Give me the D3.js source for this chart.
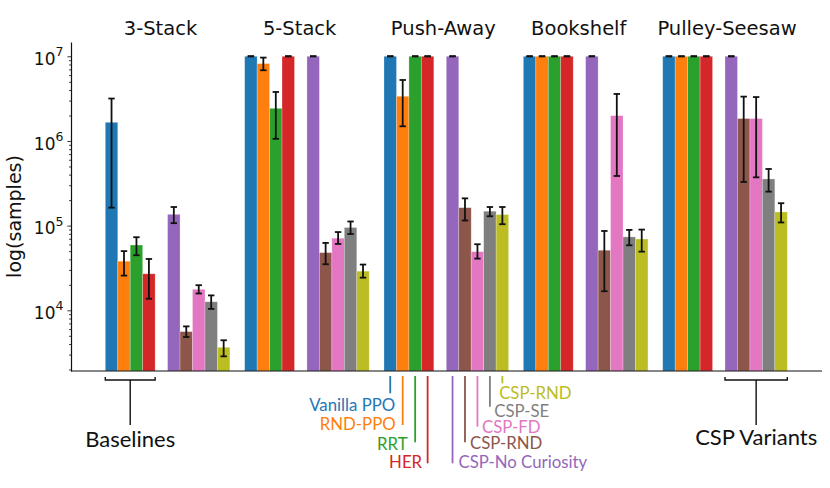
<!DOCTYPE html>
<meta charset="utf-8">
<html lang="en">
<head>
<script src="https://cdn.jsdelivr.net/npm/d3@7"></script>
<style>
  body { margin: 0; background: #fff; }
  svg { display: block; }
  .tick text { font-family: "DejaVu Sans", sans-serif; }
</style>
</head>
<body>
<svg id="chart" width="830" height="488"></svg>
<script>
// tasks and methods
const groups = ['3-Stack', '5-Stack', 'Push-Away', 'Bookshelf', 'Pulley-Seesaw'];
const methods = ['Vanilla PPO', 'RND-PPO', 'RRT', 'HER',
                 'CSP-No Curiosity', 'CSP-RND', 'CSP-FD', 'CSP-SE', 'CSP-RND'];
const colors = ['#1f77b4', '#ff7f0e', '#2ca02c', '#d62728',
                '#9467bd', '#8c564b', '#e377c2', '#7f7f7f', '#bcbd22'];

// samples needed (mean, lower and upper error), one value per method
const stack3Mean = [1.66e6, 3.8e4, 5.9e4, 2.7e4, 1.36e5, 5.6e3, 1.77e4, 1.26e4, 3.66e3];
const stack3Lo   = [1.63e5, 2.57e4, 4.47e4, 1.37e4, 1.07e5, 4.84e3, 1.58e4, 1.04e4, 2.86e3];
const stack3Hi   = [3.17e6, 5.0e4, 7.3e4, 4.04e4, 1.66e5, 6.46e3, 1.98e4, 1.5e4, 4.43e3];

const stack5Mean = [1e7, 8.2e6, 2.43e6, 1e7, 1e7, 4.8e4, 7.1e4, 9.5e4, 2.9e4];
const stack5Lo   = [1e7, 6.84e6, 1.06e6, 1e7, 1e7, 3.5e4, 6.08e4, 7.96e4, 2.43e4];
const stack5Hi   = [1e7, 9.65e6, 3.79e6, 1e7, 1e7, 6.25e4, 8.4e4, 1.12e5, 3.47e4];

const pushMean = [1e7, 3.37e6, 1e7, 1e7, 1e7, 1.63e5, 4.93e4, 1.48e5, 1.35e5];
const pushLo   = [1e7, 1.49e6, 1e7, 1e7, 1e7, 1.15e5, 4.08e4, 1.29e5, 1.04e5];
const pushHi   = [1e7, 5.25e6, 1e7, 1e7, 1e7, 2.1e5, 6.03e4, 1.66e5, 1.66e5];

const shelfMean = [1e7, 1e7, 1e7, 1e7, 1e7, 5.12e4, 1.99e6, 7.36e4, 6.95e4];
const shelfLo   = [1e7, 1e7, 1e7, 1e7, 1e7, 1.68e4, 3.86e5, 5.86e4, 4.93e4];
const shelfHi   = [1e7, 1e7, 1e7, 1e7, 1e7, 8.65e4, 3.59e6, 8.9e4, 8.98e4];

const pulleyMean = [1e7, 1e7, 1e7, 1e7, 1e7, 1.84e6, 1.84e6, 3.56e5, 1.45e5];
const pulleyLo   = [1e7, 1e7, 1e7, 1e7, 1e7, 3.28e5, 3.72e5, 2.52e5, 1.09e5];
const pulleyHi   = [1e7, 1e7, 1e7, 1e7, 1e7, 3.34e6, 3.3e6, 4.67e5, 1.84e5];

const yTicks = [1e4, 1e5, 1e6, 1e7];

const means = [stack3Mean, stack5Mean, pushMean, shelfMean, pulleyMean];
const los = [stack3Lo, stack5Lo, pushLo, shelfLo, pulleyLo];
const his = [stack3Hi, stack5Hi, pushHi, shelfHi, pulleyHi];

const rows = [];
groups.forEach((g, gi) => methods.forEach((m, mi) => rows.push({
  g: g, mi: mi, v: means[gi][mi], lo: los[gi][mi], hi: his[gi][mi]
})));

const svg = d3.select('#chart');
const plotL = 71, plotR = 822, plotT = 42, plotB = 371;

const x = d3.scaleBand().domain(groups).range([105.3, 787.3])
  .paddingInner(0.106).paddingOuter(0);
// 4 baselines, one empty slot, 5 CSP variants
const slot = i => i < 4 ? i : i + 1;
const xi = d3.scaleBand().domain(d3.range(10)).range([0, x.bandwidth()]);
const bw = xi.bandwidth();
const y = d3.scaleLog().domain([1920, 1.475e7]).range([plotB, plotT]);

// bars
svg.append('g').selectAll('rect').data(rows).enter()
  .append('rect')
    .attr('x', d => x(d.g) + xi(slot(d.mi)))
    .attr('width', bw)
    .attr('y', d => y(d.v))
    .attr('height', d => plotB - y(d.v))
    .attr('fill', d => colors[d.mi])
    .attr('stroke', '#fff').attr('stroke-opacity', 0.35).attr('stroke-width', 0.7);

// error bars
const eb = svg.append('g').attr('stroke', '#111').attr('stroke-width', 1.8);
rows.forEach(d => {
  const cx = x(d.g) + xi(slot(d.mi)) + bw / 2;
  eb.append('line').attr('x1', cx).attr('x2', cx).attr('y1', y(d.lo)).attr('y2', y(d.hi));
  [d.lo, d.hi].forEach(v => eb.append('line')
    .attr('x1', cx - 3.2).attr('x2', cx + 3.2).attr('y1', y(v)).attr('y2', y(v)));
});

// y axis, minor ticks first
const minor = [];
for (let e = 3; e <= 7; e++) for (let k = 2; k <= 9; k++) {
  const v = k * Math.pow(10, e);
  if (v >= y.domain()[0] && v <= y.domain()[1]) minor.push(v);
}
svg.append('g').attr('transform', `translate(${plotL},0)`)
  .call(d3.axisLeft(y).tickValues(minor).tickSize(2).tickSizeOuter(0).tickFormat(''))
  .call(g => g.select('.domain').remove())
  .selectAll('line').attr('stroke', '#444');

const yAxis = svg.append('g').attr('transform', `translate(${plotL},0)`)
  .call(d3.axisLeft(y).tickValues(yTicks).tickSize(3.6).tickSizeOuter(0).tickPadding(4));
yAxis.select('.domain').attr('stroke', '#111').attr('stroke-width', 1.2);
yAxis.selectAll('.tick line').attr('stroke', '#333');
yAxis.selectAll('.tick text').each(function(d) {
  const t = d3.select(this).text('').attr('font-size', 17).attr('fill', '#111')
    .attr('dy', '0.48em');
  t.append('tspan').text('10');
  t.append('tspan').text(Math.round(Math.log10(d))).attr('font-size', 12.5).attr('dy', '-0.7em');
});

// bottom spine
svg.append('line').attr('x1', plotL).attr('x2', plotR).attr('y1', plotB).attr('y2', plotB)
  .attr('stroke', '#111').attr('stroke-width', 1.2);

// y label
svg.append('text')
  .attr('transform', `translate(21,${(plotT + plotB) / 2 + 10}) rotate(-90)`)
  .attr('text-anchor', 'middle')
  .attr('font-family', 'DejaVu Sans, sans-serif').attr('font-size', 19).attr('fill', '#111')
  .text('log(samples)');

// task titles
const titleNudge = [55.2, 55, 59.3, 55.4, 64.3];
svg.append('g').selectAll('text').data(groups).enter()
  .append('text')
    .attr('x', (g, i) => x(g) + titleNudge[i]).attr('y', 35)
    .attr('text-anchor', 'middle')
    .attr('font-family', 'DejaVu Sans, sans-serif').attr('font-size', 19.5).attr('fill', '#111')
    .text(g => g);

// brackets under first baselines and last CSP variants
function bracket(g, i0, i1, label, by) {
  const x0 = x(g) + xi(slot(i0)), x1 = x(g) + xi(slot(i1)) + bw, mid = (x0 + x1) / 2;
  svg.append('path')
    .attr('d', `M${x0},377 V380 H${x1} V377 M${mid},380 V425`)
    .attr('fill', 'none').attr('stroke', '#111').attr('stroke-width', 1.4);
  svg.append('text').attr('x', mid).attr('y', by).attr('text-anchor', 'middle')
    .attr('font-family', 'Lato, sans-serif').attr('font-size', 22).attr('fill', '#111')
    .text(label);
}
bracket(groups[0], 0, 3, 'Baselines', 447);
bracket(groups[4], 4, 8, 'CSP Variants', 445);

// legend hanging from the Push-Away bars
const legLen = [393.3, 425, 442.3, 463.3, 463.3, 442.3, 426.7, 406.7, 383.3];
const legBase = [410.7, 430, 450, 468.3, 468.3, 449, 432.7, 416.7, 399.3];
const legDx = [5, -7, -7.5, -5.5, 6, 5, 4.6, 4.3, -3.2];
const lg = svg.append('g');
methods.forEach((m, i) => {
  const cx = x(groups[2]) + xi(slot(i)) + bw / 2;
  lg.append('line').attr('x1', cx).attr('x2', cx).attr('y1', 376).attr('y2', legLen[i])
    .attr('stroke', colors[i]).attr('stroke-width', 1.8);
  lg.append('text').attr('x', cx + legDx[i]).attr('y', legBase[i])
    .attr('text-anchor', i < 4 ? 'end' : 'start')
    .attr('font-family', 'Lato, sans-serif').attr('font-size', 16.8)
    .attr('fill', colors[i]).text(m);
});
</script>
</body>
</html>
